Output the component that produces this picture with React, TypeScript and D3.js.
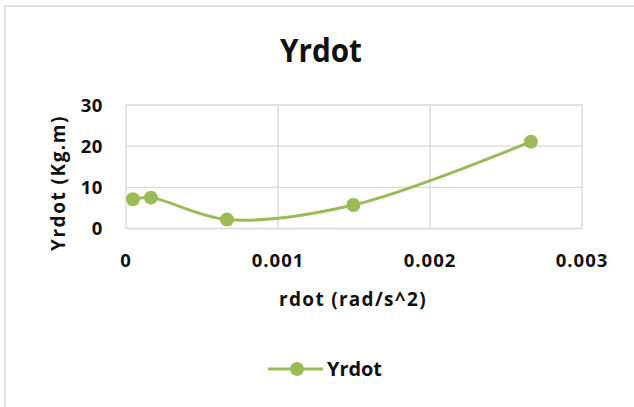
import React from "react";
import * as d3 from "d3";

const xValues = [0.000046, 0.000164, 0.000664, 0.001496, 0.002664];
const yValues = [7.1, 7.5, 2.2, 5.7, 21.1];
const xTicks = [0, 0.001, 0.002, 0.003];
const xTickLabels = ["0", "0.001", "0.002", "0.003"];
const yTicks = [0, 10, 20, 30];
const seriesName = "Yrdot";
const titleText = "Yrdot";
const xTitle = "rdot (rad/s^2)";
const yTitle = "Yrdot (Kg.m)";

const W = 634;
const H = 407;
const color = "#9BBB59";
const font = "'Open Sans', 'Liberation Sans', sans-serif";

export default function App() {
  const x = d3.scaleLinear().domain([0, 0.003]).range([126, 582]);
  const y = d3.scaleLinear().domain([0, 30]).range([228.5, 105]);
  const pts = xValues.map((v, i) => [x(v), y(yValues[i])] as [number, number]);
  const line = d3.line().curve(d3.curveCatmullRom.alpha(0.5))(pts) || "";

  return (
    <svg width={W} height={H} style={{ position: "absolute", left: 0, top: 0 }}>
      <rect x={0} y={0} width={W} height={H} fill="#fff" />
      <rect x={5} y={6} width={W + 10} height={H + 10} fill="#fff" stroke="#d9d9d9" strokeWidth={1.5} />
      <text x={280} y={62} fontFamily={font} fontWeight="bold" fontSize={33} textLength={82} lengthAdjust="spacingAndGlyphs" fill="#111">
        {titleText}
      </text>
      {yTicks.map((t) => (
        <line key={"gy" + t} x1={126} x2={582} y1={y(t)} y2={y(t)} stroke="#d9d9d9" strokeWidth={1.3} />
      ))}
      {xTicks.map((t) => (
        <line key={"gx" + t} x1={x(t)} x2={x(t)} y1={105} y2={228.5} stroke="#d9d9d9" strokeWidth={1.3} />
      ))}
      {yTicks.map((t) => (
        <text key={"ty" + t} x={103} y={y(t) + 6.5} textAnchor="end" fontFamily={font} fontWeight="bold" fontSize={18.5} letterSpacing={0.6} fill="#111">
          {t}
        </text>
      ))}
      {xTicks.map((t, i) => (
        <text key={"tx" + t} x={x(t)} y={267} textAnchor="middle" fontFamily={font} fontWeight="bold" fontSize={18.5} letterSpacing={1} fill="#111">
          {xTickLabels[i]}
        </text>
      ))}
      <text x={353} y={306} textAnchor="middle" fontFamily={font} fontWeight="bold" fontSize={19} letterSpacing={1.3} fill="#111">
        {xTitle}
      </text>
      <text
        transform={`translate(65,183) rotate(-90)`}
        textAnchor="middle"
        fontFamily={font}
        fontWeight="bold"
        fontSize={19}
        letterSpacing={1.5}
        fill="#111"
      >
        {yTitle}
      </text>
      <path d={line} fill="none" stroke={color} strokeWidth={3} />
      {pts.map((p, i) => (
        <circle key={i} cx={p[0]} cy={p[1]} r={7} fill={color} />
      ))}
      <line x1={268} x2={323} y1={369} y2={369} stroke={color} strokeWidth={3} />
      <circle cx={297} cy={369} r={7} fill={color} />
      <text x={327} y={375.5} fontFamily={font} fontWeight="bold" fontSize={20} textLength={55} lengthAdjust="spacingAndGlyphs" fill="#111">
        {seriesName}
      </text>
    </svg>
  );
}
